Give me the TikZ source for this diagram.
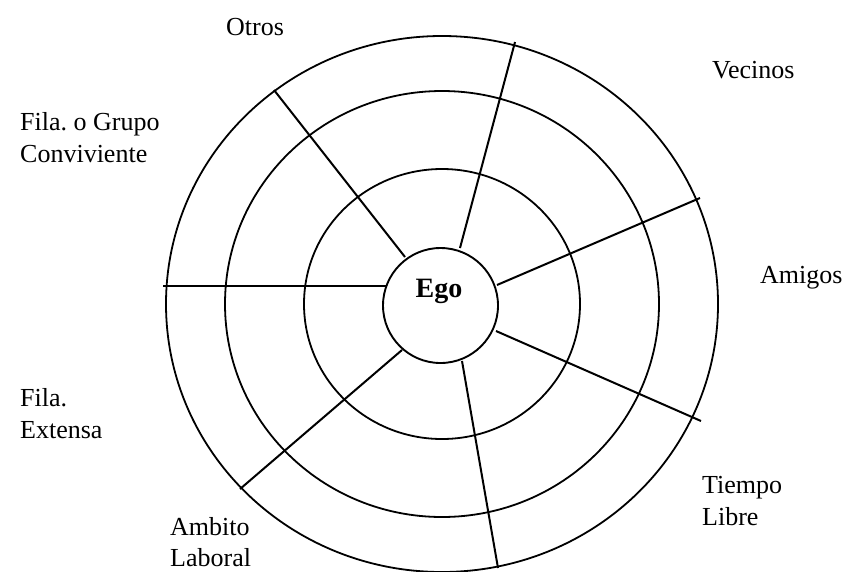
\documentclass[tikz,border=0pt]{standalone}
\usepackage{fontspec}
\setmainfont{Liberation Serif}
\frenchspacing
\begin{document}
\begin{tikzpicture}[x=1pt,y=-1pt,
  ring/.style={line width=1.8pt},
  spoke/.style={line width=2pt},
  lbl/.style={font=\fontsize{26}{31}\selectfont, inner sep=0pt, align=left},
  egonode/.style={circle, draw, line width=1.9pt, minimum size=115pt, inner sep=0pt}]
\useasboundingbox (0,0) rectangle (848,571);
\coordinate (c) at (442,304);
\draw[ring] (c) ellipse [x radius=276, y radius=268];
\draw[ring] (c) ellipse [x radius=217, y radius=213];
\draw[ring] (c) ellipse [x radius=138, y radius=135];
\node[egonode] (ego) at (440.5,305.5) {};
\node[font=\fontsize{28}{31}\selectfont\bfseries, inner sep=0pt] (egotxt) at (439,291) {Ego};
% spoke ends
\coordinate (h1) at (163,286);   \coordinate (h2) at (386,286);
\coordinate (o1) at (274,90);    \coordinate (o2) at (405,257);
\coordinate (v1) at (515,42);    \coordinate (v2) at (460,248);
\coordinate (a1) at (700,198);   \coordinate (a2) at (497,285);
\coordinate (t1) at (701,421);   \coordinate (t2) at (496,331);
\coordinate (b1) at (498,568);   \coordinate (b2) at (462,361);
\coordinate (l1) at (240,489);   \coordinate (l2) at (402,350);
\draw[spoke] (h1) -- (h2);
\draw[spoke] (o1) -- (o2);
\draw[spoke] (v1) -- (v2);
\draw[spoke] (a1) -- (a2);
\draw[spoke] (t1) -- (t2);
\draw[spoke] (b1) -- (b2);
\draw[spoke] (l1) -- (l2);
% labels
\node[lbl, anchor=base west] (otros) at (226,35) {Otros};
\node[lbl, anchor=base west] (vecinos) at (712,78) {Vecinos};
\node[lbl, anchor=base west] (grupo) at (20,130) {Fila. o Grupo};
\node[lbl, anchor=base west] (conv) at (20,162) {Conviviente};
\node[lbl, anchor=base west] (amigos) at (760,283) {Amigos};
\node[lbl, anchor=base west] (fila) at (20,406) {Fila.};
\node[lbl, anchor=base west] (extensa) at (20,438) {Extensa};
\node[lbl, anchor=base west] (tiempo) at (702,493) {Tiempo};
\node[lbl, anchor=base west] (libre) at (702,525) {Libre};
\node[lbl, anchor=base west] (ambito) at (170,535) {Ambito};
\node[lbl, anchor=base west] (laboral) at (170,566) {Laboral};
\end{tikzpicture}
\end{document}
